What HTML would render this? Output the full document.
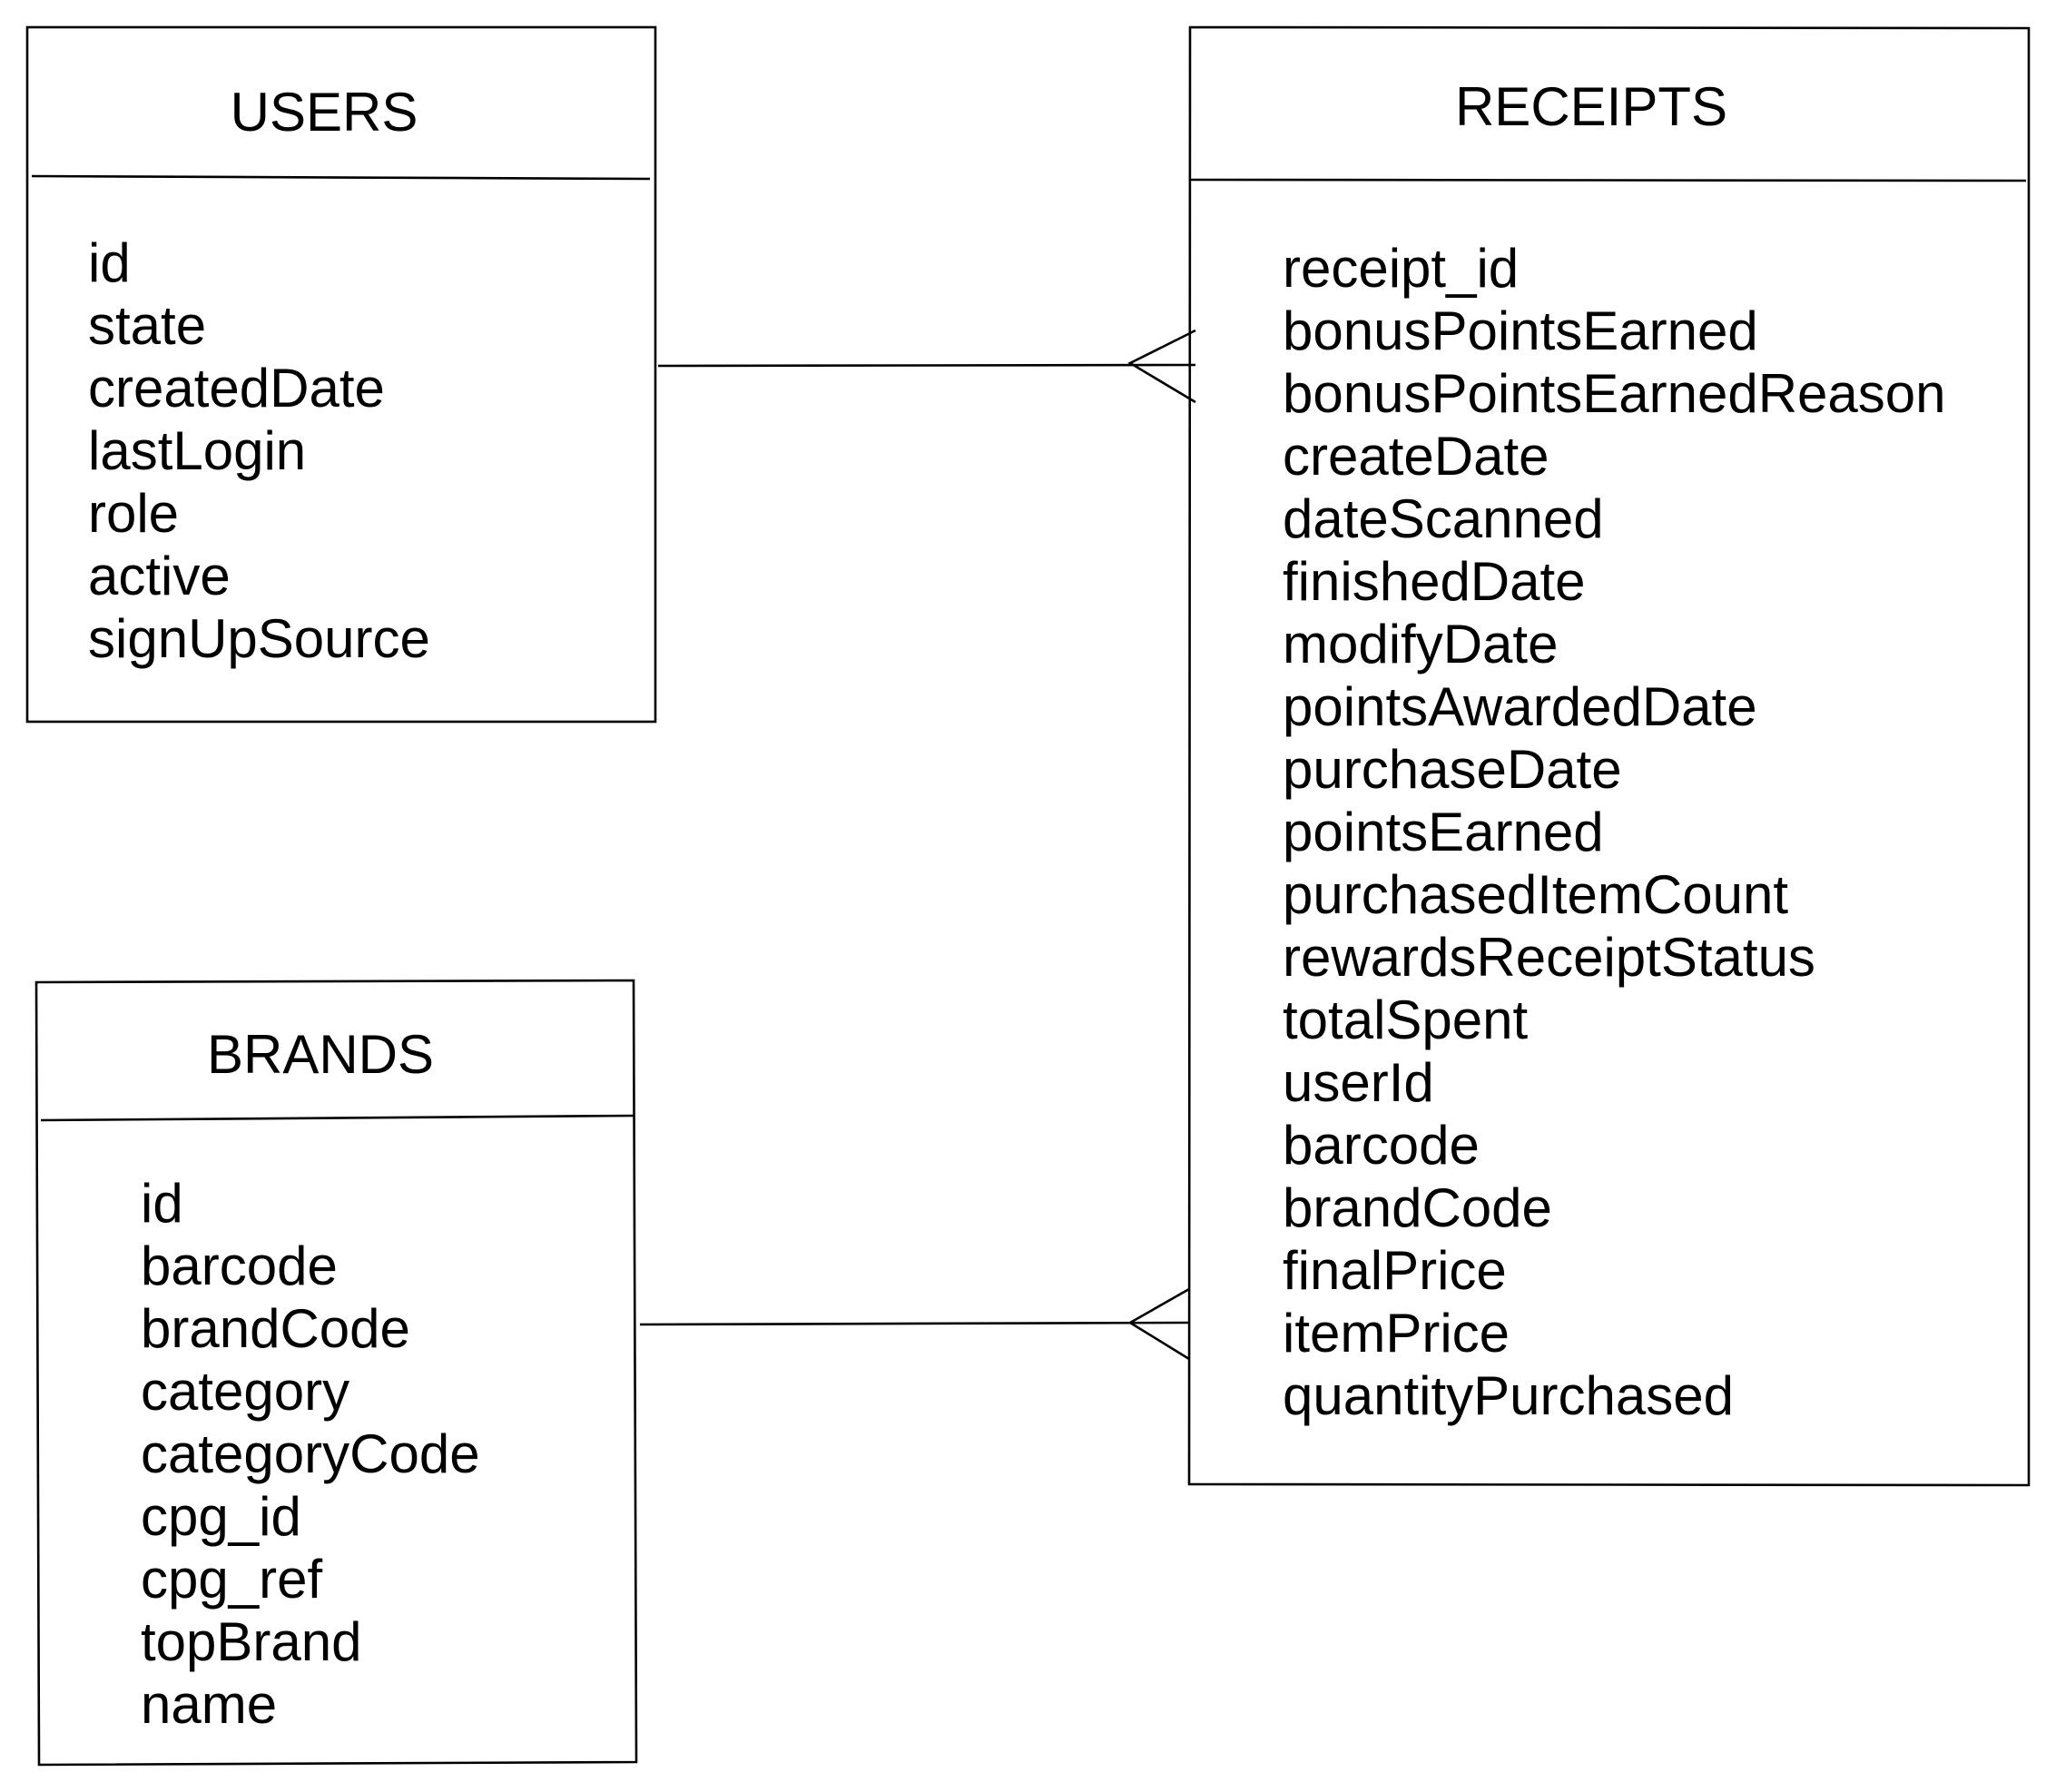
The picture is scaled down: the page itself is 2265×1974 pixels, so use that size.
<!DOCTYPE html>
<html><head><meta charset="utf-8"><style>
html,body{margin:0;padding:0;background:#fff;}
svg{display:block;}
text{font-family:"Liberation Sans",Arial,sans-serif;font-size:60px;fill:#000;}
</style></head><body>
<svg width="2265" height="1974" viewBox="0 0 2265 1974" xmlns="http://www.w3.org/2000/svg">
<g fill="none" stroke="#000" stroke-width="2.6">
<!-- USERS -->
<rect x="30" y="30" width="692" height="765"/>
<line x1="35" y1="194" x2="716" y2="197"/>
<!-- RECEIPTS -->
<polygon points="1311,30 2235,31 2235,1636 1310,1635"/>
<line x1="1312" y1="198" x2="2232" y2="199"/>
<!-- BRANDS -->
<polygon points="40,1082 698,1080 701,1941 43,1944"/>
<line x1="45" y1="1234" x2="698" y2="1229"/>
<!-- connectors -->
<line x1="725" y1="403" x2="1317" y2="402"/>
<polyline points="1317,364 1245,400 1317,443"/>
<line x1="705" y1="1459" x2="1310" y2="1457"/>
<polyline points="1310,1420 1245,1457 1310,1497"/>
</g>
<text x="357" y="144" text-anchor="middle">USERS</text>
<g>
<text x="97" y="310">id</text>
<text x="97" y="379">state</text>
<text x="97" y="448">createdDate</text>
<text x="97" y="517">lastLogin</text>
<text x="97" y="586">role</text>
<text x="97" y="655">active</text>
<text x="97" y="724">signUpSource</text>
</g>
<text x="1753" y="138" text-anchor="middle">RECEIPTS</text>
<g>
<text x="1413" y="316">receipt_id</text>
<text x="1413" y="385">bonusPointsEarned</text>
<text x="1413" y="454">bonusPointsEarnedReason</text>
<text x="1413" y="523">createDate</text>
<text x="1413" y="592">dateScanned</text>
<text x="1413" y="661">finishedDate</text>
<text x="1413" y="730">modifyDate</text>
<text x="1413" y="799">pointsAwardedDate</text>
<text x="1413" y="868">purchaseDate</text>
<text x="1413" y="937">pointsEarned</text>
<text x="1413" y="1006">purchasedItemCount</text>
<text x="1413" y="1075">rewardsReceiptStatus</text>
<text x="1413" y="1144">totalSpent</text>
<text x="1413" y="1213">userId</text>
<text x="1413" y="1282">barcode</text>
<text x="1413" y="1351">brandCode</text>
<text x="1413" y="1420">finalPrice</text>
<text x="1413" y="1489">itemPrice</text>
<text x="1413" y="1558">quantityPurchased</text>
</g>
<text x="353" y="1182" text-anchor="middle">BRANDS</text>
<g>
<text x="155" y="1346">id</text>
<text x="155" y="1415">barcode</text>
<text x="155" y="1484">brandCode</text>
<text x="155" y="1553">category</text>
<text x="155" y="1622">categoryCode</text>
<text x="155" y="1691">cpg_id</text>
<text x="155" y="1760">cpg_ref</text>
<text x="155" y="1829">topBrand</text>
<text x="155" y="1898">name</text>
</g>
</svg>
</body></html>
